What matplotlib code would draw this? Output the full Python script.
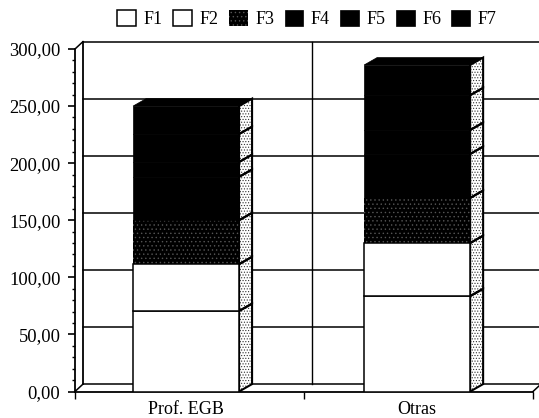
# Stacked 3D-look bar chart, two groups, seven factors
import numpy as np
import matplotlib
matplotlib.use("Agg")
import matplotlib.pyplot as plt
from matplotlib.patches import Polygon

plt.rcParams['font.family'] = ['Liberation Serif', 'DejaVu Serif']

categories = ['Prof. EGB', 'Otras']
series_names = ['F1', 'F2', 'F3', 'F4', 'F5', 'F6', 'F7']
f1 = [70.5, 83.5]
f2 = [41, 46.5]
f3 = [38.5, 39.5]
f4 = [38, 38.5]
f5 = [13, 21]
f6 = [24.5, 30.5]
f7 = [24.5, 26.5]
series = [f1, f2, f3, f4, f5, f6, f7]
y_major = [0, 50, 100, 150, 200, 250, 300]
y_labels = ['0,00', '50,00', '100,00', '150,00', '200,00', '250,00', '300,00']

fig = plt.figure(figsize=(5.39, 4.18), dpi=100)
ax = fig.add_axes([75/539, 26.5/418, 458/539, 342.5/418])
ax.set_xlim(-0.5, 1.5)
ax.set_ylim(0, 300)

# depth of the walls and of the bars, in data units
wall_dx = 8/229
wall_dy = 6.5
bar_dx = 13/229
bar_dy = 6.5
x_pos = np.array([-0.015, 0.994])
bar_w = 106/229

right = 1.5 + 14/229

# back wall
for v in y_major:
    ax.plot([-0.5+wall_dx, right], [v+wall_dy, v+wall_dy], color='k', lw=1.1, zorder=1, clip_on=False)
ax.plot([0.5+wall_dx, 0.5+wall_dx], [wall_dy, 300+wall_dy], color='k', lw=1.0, zorder=1, clip_on=False)
ax.plot([-0.5+wall_dx, -0.5+wall_dx], [wall_dy, 300+wall_dy], color='k', lw=1.3, zorder=1, clip_on=False)
ax.plot([-0.5, -0.5+wall_dx], [300, 300+wall_dy], color='k', lw=1.1, zorder=1, clip_on=False)
ax.plot([-0.5, -0.5+wall_dx], [0, wall_dy], color='k', lw=1.1, zorder=1, clip_on=False)
ax.plot([1.5, 1.5+wall_dx], [0, wall_dy], color='k', lw=1.1, zorder=1, clip_on=False)

# stacked bars and their side faces
plt.rcParams['hatch.linewidth'] = 0.5
bottom = np.zeros(2)
handles = []
for i, vals in enumerate(series):
    vals = np.array(vals, dtype=float)
    if i < 2:
        b = ax.bar(x_pos, vals, bar_w, bottom=bottom, facecolor='white', edgecolor='k', lw=1.1, zorder=3)
    elif i == 2:
        b = ax.bar(x_pos, vals, bar_w, bottom=bottom, facecolor='k', edgecolor='#555555', hatch='....', lw=0, zorder=3)
    else:
        b = ax.bar(x_pos, vals, bar_w, bottom=bottom, facecolor='k', edgecolor='k', lw=0.5, zorder=3)
    handles.append(b)
    for j in range(2):
        xr = x_pos[j] + bar_w/2
        pts = [(xr, bottom[j]), (xr+bar_dx, bottom[j]+bar_dy),
               (xr+bar_dx, bottom[j]+vals[j]+bar_dy), (xr, bottom[j]+vals[j])]
        ax.add_patch(Polygon(pts, facecolor='white', edgecolor='#333333', hatch='......', lw=0, zorder=2.5))
        ax.add_patch(Polygon(pts, fill=False, edgecolor='k', lw=1.5, zorder=2.6))
    bottom = bottom + vals

# top faces
for j in range(2):
    xl = x_pos[j] - bar_w/2
    xr = x_pos[j] + bar_w/2
    pts = [(xl, bottom[j]), (xl+bar_dx, bottom[j]+bar_dy), (xr+bar_dx, bottom[j]+bar_dy), (xr, bottom[j])]
    ax.add_patch(Polygon(pts, facecolor='k', edgecolor='k', lw=0.5, zorder=3))

# axes
for s in ['top', 'right']:
    ax.spines[s].set_visible(False)
ax.spines['left'].set_linewidth(1.3)
ax.spines['bottom'].set_linewidth(1.3)
ax.set_yticks(y_major)
ax.set_yticklabels(y_labels, fontsize=13.3)
ax.set_yticks(np.arange(0, 301, 10), minor=True)
ax.tick_params(axis='y', which='major', length=5, width=1.2, pad=5.5)
ax.tick_params(axis='y', which='minor', length=2.5, width=1.0)
ax.set_xticks([-0.5, 0.5, 1.5])
ax.set_xticklabels(['', '', ''])
ax.tick_params(axis='x', length=5, width=1.0)
ax.patch.set_visible(False)

for j, name in enumerate(categories):
    ax.annotate(name, (x_pos[j], 0), xytext=(0, -7), textcoords='offset points',
                ha='center', va='top', fontsize=13)

fig.legend([h[0] for h in handles], series_names, ncol=7, loc='center', bbox_to_anchor=(307/539, 1-19/418),
           frameon=False, fontsize=13, handlelength=1.05, handleheight=1.05, handletextpad=0.4,
           columnspacing=0.58, borderpad=0)

plt.savefig('out.png', dpi=100)
